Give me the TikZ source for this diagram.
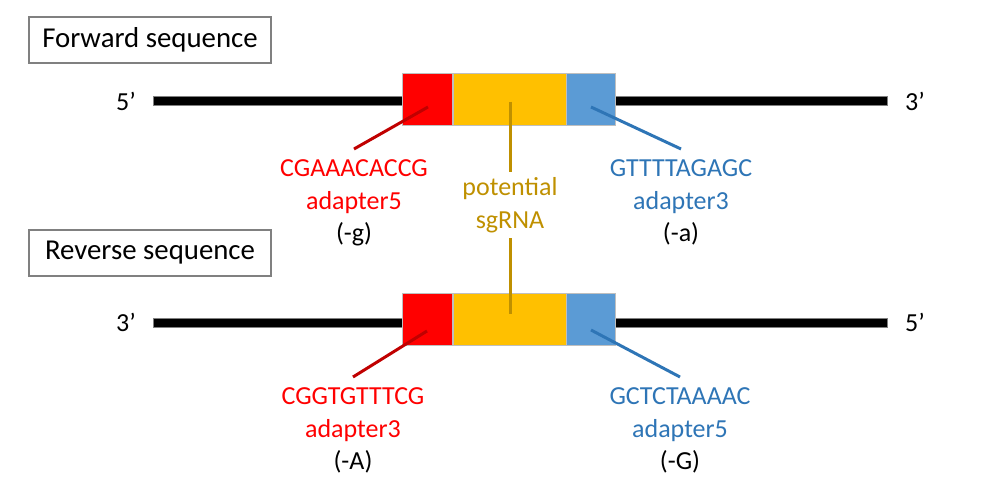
\documentclass[tikz,border=0pt]{standalone}
\usepackage{fontspec}
\setmainfont{Carlito}
\usetikzlibrary{positioning}
\definecolor{adred}{HTML}{FF0000}
\definecolor{darkred}{HTML}{C00000}
\definecolor{sggold}{HTML}{FFC000}
\definecolor{sgtext}{HTML}{BF9000}
\definecolor{adblue}{HTML}{5B9BD5}
\definecolor{bluetext}{HTML}{2E75B6}
\newcommand{\seqfont}{\fontsize{14.8}{18.6}\selectfont}
\tikzset{
  headbox/.style={draw=gray,line width=0.8pt,minimum width=4.84cm,minimum height=0.92cm,font=\fontsize{16.4}{20}\selectfont},
  strand/.style={fill=black,draw=gray,line width=0.4pt,minimum width=14.68cm,minimum height=0.17cm,inner sep=0pt},
  part/.style={draw=black!25,line width=0.5pt,minimum height=1.04cm,inner sep=0pt},
  seqlabel/.style={align=center,font=\seqfont,inner sep=1pt,outer sep=5pt,anchor=north},
  pointer/.style={line width=1.7pt}
}

\begin{document}
\begin{tikzpicture}[x=0.02cm,y=-0.02cm]
\useasboundingbox (0,0) rectangle (986,492);
% forward strand
\node[headbox] (fwdhead) at (150,40) {Forward sequence};
\node[strand] (fwdline) at (520,101) {};
\node[font=\seqfont] (fwd5) at (126,101) {5’};
\node[font=\seqfont] (fwd3) at (915,101) {3’};
\node[part,fill=sggold,minimum width=2.26cm] (fwdsg) at (509.5,99) {};
\node[part,fill=adred,minimum width=1.0cm,left=0pt of fwdsg] (fwdad5) {};
\node[part,fill=adblue,minimum width=0.98cm,right=0pt of fwdsg] (fwdad3) {};
\coordinate (fwdp5) at (428,107);\coordinate (fwdp3) at (591,107);\coordinate (fwdpsg) at (510,102);
\node[seqlabel] (fwdlab5) at (354,149) {\textcolor{adred}{CGAAACACCG}\\\textcolor{adred}{adapter5}\\(-g)};
\node[seqlabel] (fwdlab3) at (681,149) {\textcolor{bluetext}{GTTTTAGAGC}\\\textcolor{bluetext}{adapter3}\\(-a)};
\draw[pointer,darkred] (fwdp5) -- (fwdlab5.north);
\draw[pointer,bluetext] (fwdp3) -- (fwdlab3.north);
% potential sgRNA in the middle
\node[align=center,font=\seqfont,text=sgtext,inner sep=3pt] (sglab) at (510,205) {potential\\sgRNA};
% reverse strand
\node[headbox] (revhead) at (150,253) {Reverse sequence};
\node[strand] (revline) at (520,323) {};
\node[font=\seqfont] (rev3) at (126,322) {3’};
\node[font=\seqfont] (rev5) at (915,322) {5’};
\node[part,fill=sggold,minimum width=2.26cm] (revsg) at (509.5,319) {};
\node[part,fill=adred,minimum width=1.0cm,left=0pt of revsg] (revad3) {};
\node[part,fill=adblue,minimum width=0.98cm,right=0pt of revsg] (revad5) {};
\coordinate (revp3) at (427,331);\coordinate (revp5) at (591,330);\coordinate (revpsg) at (510,314);
\node[seqlabel] (revlab3) at (353,377) {\textcolor{adred}{CGGTGTTTCG}\\\textcolor{adred}{adapter3}\\(-A)};
\node[seqlabel] (revlab5) at (680,377) {\textcolor{bluetext}{GCTCTAAAAC}\\\textcolor{bluetext}{adapter5}\\(-G)};
\draw[pointer,darkred] (revp3) -- (revlab3.north);
\draw[pointer,bluetext] (revp5) -- (revlab5.north);
\draw[pointer,sgtext] (fwdpsg) -- (sglab.north);
\draw[pointer,sgtext] (sglab.south) -- (revpsg);
\end{tikzpicture}
\end{document}
